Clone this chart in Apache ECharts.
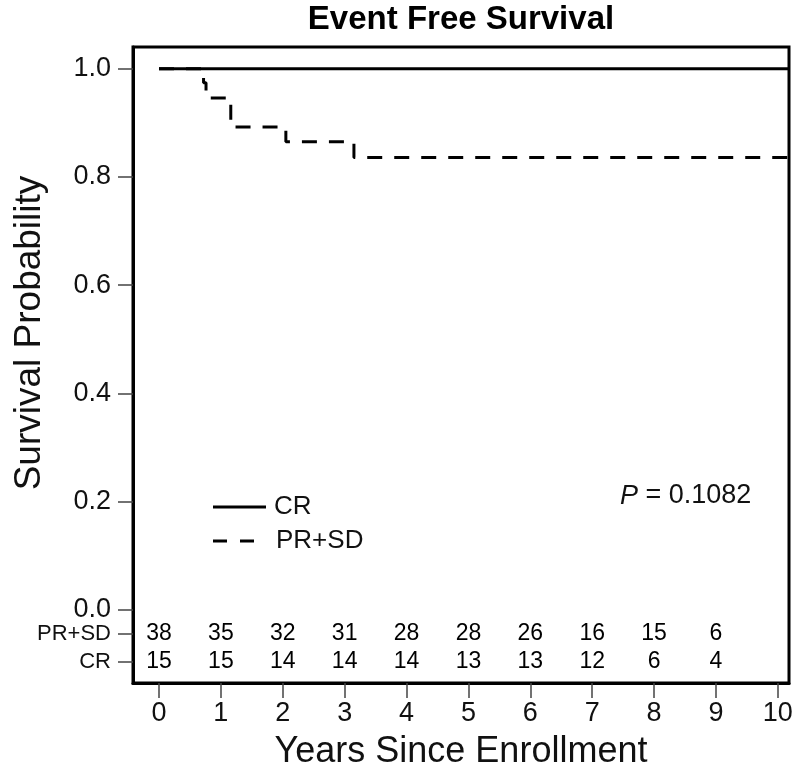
<!DOCTYPE html>
<html>
<head>
<meta charset="utf-8">
<script src="https://cdn.jsdelivr.net/npm/echarts@6/dist/echarts.min.js"></script>
<style>html,body{margin:0;padding:0;background:#fff}#c{width:800px;height:783px}</style>
</head>
<body>
<div id="c"></div>
<script>
// Data
const crCurve = [[0, 1.0], [10.18, 1.0]];
const prsdCurve = [[0, 1.0], [0.72, 0.974], [0.76, 0.946], [1.16, 0.892], [2.05, 0.865], [3.15, 0.836], [10.18, 0.836]];
const riskTimes = [0, 1, 2, 3, 4, 5, 6, 7, 8, 9];
const riskPRSD = [38, 35, 32, 31, 28, 28, 26, 16, 15, 6];
const riskCR = [15, 15, 14, 14, 14, 13, 13, 12, 6, 4];
const xTicks = [0, 1, 2, 3, 4, 5, 6, 7, 8, 9, 10];
const yTicks = [0, 0.2, 0.4, 0.6, 0.8, 1.0];
const rowPRSD = -0.044, rowCR = -0.096;
const legendNames = ['CR', 'PR+SD'];

const FONT = 'Liberation Sans, Arial, sans-serif';
const chart = echarts.init(document.getElementById('c'));
const yVals = yTicks.concat([rowPRSD, rowCR]);
const riskLabel = {show: true, position: 'inside', formatter: p => p.value[2], fontSize: 23, fontFamily: FONT, color: '#000', opacity: 1};
chart.setOption({
  animation: false,
  backgroundColor: '#fff',
  grid: {left: 133, right: 11, top: 47, bottom: 100, show: true, borderColor: '#000', borderWidth: 3, backgroundColor: 'transparent'},
  xAxis: {
    type: 'value', min: -0.42, max: 10.18,
    splitLine: {show: false},
    axisLine: {show: true, onZero: false, lineStyle: {color: '#000', width: 3}},
    axisTick: {show: true, customValues: xTicks, length: 15, lineStyle: {color: '#444', width: 1.5}},
    axisLabel: {customValues: xTicks, fontSize: 27, color: '#111', fontFamily: FONT, margin: 17}
  },
  yAxis: {
    type: 'value', min: -0.135, max: 1.04,
    splitLine: {show: false},
    axisLine: {show: true, onZero: false, lineStyle: {color: '#000', width: 3}},
    axisTick: {show: true, customValues: yVals, length: 15, lineStyle: {color: '#444', width: 1.5}},
    axisLabel: {
      customValues: yVals, color: '#111', fontFamily: FONT, margin: 22,
      formatter: function (v) {
        if (Math.abs(v - rowPRSD) < 1e-6) return '{s|PR+SD}';
        if (Math.abs(v - rowCR) < 1e-6) return '{s|CR}';
        return '{b|' + v.toFixed(1) + '}';
      },
      rich: {s: {fontSize: 22, fontFamily: FONT, color: '#111'}, b: {fontSize: 27, fontFamily: FONT, color: '#111'}}
    }
  },
  series: [
    {name: 'CR', type: 'line', data: crCurve, step: 'end', symbol: 'none', showSymbol: false,
      lineStyle: {color: '#000', width: 3}, itemStyle: {color: '#000'}},
    {name: 'PR+SD', type: 'line', data: prsdCurve, step: 'end', symbol: 'none', showSymbol: false,
      lineStyle: {color: '#000', width: 3, type: [15, 12]}, itemStyle: {color: '#000'}},
    {name: 'riskPR', type: 'scatter', symbolSize: 0.1, itemStyle: {color: '#000', opacity: 1},
      data: riskTimes.map((t, i) => [t, rowPRSD, riskPRSD[i]]), label: riskLabel},
    {name: 'riskCR', type: 'scatter', symbolSize: 0.1, itemStyle: {color: '#000', opacity: 1},
      data: riskTimes.map((t, i) => [t, rowCR, riskCR[i]]), label: riskLabel}
  ],
  graphic: [
    {type: 'text', x: 461, y: 20, style: {text: 'Event Free Survival', font: 'bold 33px ' + FONT, fill: '#000', align: 'center', verticalAlign: 'middle'}},
    {type: 'text', x: 461, y: 752, style: {text: 'Years Since Enrollment', font: '36px ' + FONT, fill: '#111', align: 'center', verticalAlign: 'middle'}},
    {type: 'text', x: 30, y: 333, rotation: Math.PI / 2, style: {text: 'Survival Probability', font: '37px ' + FONT, fill: '#111', align: 'center', verticalAlign: 'middle'}},
    {type: 'text', x: 620, y: 496, style: {text: '{i|P} = 0.1082', verticalAlign: 'middle', rich: {i: {font: 'italic 27px ' + FONT, fill: '#111'}}, font: '27px ' + FONT, fill: '#111'}},
    {type: 'line', shape: {x1: 213, y1: 507, x2: 266, y2: 507}, style: {stroke: '#000', lineWidth: 3}},
    {type: 'line', shape: {x1: 213, y1: 541, x2: 266, y2: 541}, style: {stroke: '#000', lineWidth: 3, lineDash: [14, 13]}},
    {type: 'text', x: 274, y: 507, style: {text: legendNames[0], font: '26px ' + FONT, fill: '#111', verticalAlign: 'middle'}},
    {type: 'text', x: 276, y: 541, style: {text: legendNames[1], font: '26px ' + FONT, fill: '#111', verticalAlign: 'middle'}}
  ]
});
</script>
</body>
</html>
